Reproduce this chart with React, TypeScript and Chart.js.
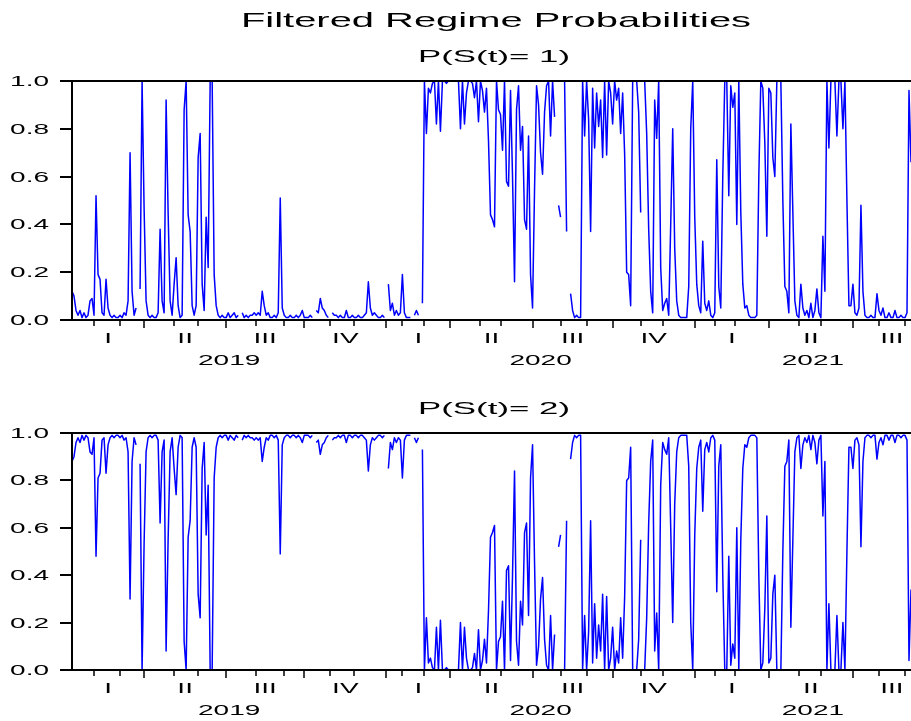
import { useEffect, useRef } from "react";
import { Chart, registerables } from "chart.js";

Chart.register(...registerables);

// Filtered probability of regime 1, one value per observation (null = no observation)
const regime1Prob: (number | null)[] = [
  0.12, 0.10, 0.04, 0.02, 0.04, 0.01, 0.03, 0.01, 0.02, 0.08,
  0.09, 0.02, 0.52, 0.19, 0.17, 0.03, 0.02, 0.17, 0.05, 0.02,
  0.01, 0.02, 0.01, 0.01, 0.02, 0.01, 0.03, 0.02, 0.08, 0.70,
  0.12, 0.02, 0.05, null, 0.13, 1.00, 0.47, 0.08, 0.02, 0.01,
  0.02, 0.01, 0.01, 0.03, 0.38, 0.08, 0.03, 0.92, 0.45, 0.08,
  0.02, 0.15, 0.26, 0.06, 0.01, 0.02, 0.88, 1.00, 0.44, 0.37,
  0.06, 0.02, 0.06, 0.68, 0.78, 0.15, 0.04, 0.43, 0.22, 1.00,
  1.00, 0.19, 0.06, 0.02, 0.01, 0.02, 0.01, 0.01, 0.03, 0.01,
  0.02, 0.03, 0.01, 0.02, null, 0.03, 0.01, 0.02, 0.01, 0.02,
  0.02, 0.03, 0.02, 0.03, 0.02, 0.12, 0.06, 0.02, 0.03, 0.01,
  0.01, 0.02, 0.01, 0.03, 0.51, 0.05, 0.02, 0.01, 0.01, 0.02,
  0.01, 0.01, 0.02, 0.01, 0.02, 0.04, 0.01, 0.01, 0.01, 0.02,
  0.01, null, 0.04, 0.03, 0.09, 0.05, 0.04, 0.02, 0.01, null,
  0.03, 0.02, 0.02, 0.01, 0.02, 0.01, 0.01, 0.04, 0.01, 0.01,
  0.02, 0.01, 0.01, 0.02, 0.01, 0.01, 0.02, 0.03, 0.16, 0.05,
  0.02, 0.03, 0.02, 0.01, 0.01, 0.02, 0.01, null, 0.15, 0.04,
  0.07, 0.02, 0.04, 0.02, 0.03, 0.19, 0.03, 0.01, 0.01, 0.01,
  null, 0.02, 0.04, 0.02, null, 0.07, 1.00, 0.78, 0.97, 0.95,
  0.99, 1.00, 0.82, 1.00, 0.79, 1.00, 1.00, 0.99, 1.00, 1.00,
  1.00, 1.00, 1.00, 1.00, 0.80, 1.00, 0.82, 0.95, 1.00, 1.00,
  0.99, 0.93, 1.00, 0.83, 1.00, 0.96, 0.87, 0.97, 0.75, 0.44,
  0.42, 0.39, 1.00, 0.88, 0.86, 0.71, 1.00, 0.58, 0.56, 0.96,
  0.60, 0.16, 0.88, 0.98, 0.71, 0.81, 0.42, 0.38, 0.77, 0.19,
  0.05, 0.55, 0.98, 0.90, 0.70, 0.61, 0.87, 0.98, 1.00, 0.77,
  1.00, 0.85, null, 0.48, 0.43, null, 1.00, 0.37, null, 0.11,
  0.04, 0.01, 0.02, 0.01, 0.01, 1.00, 0.77, 1.00, 0.84, 0.37,
  0.97, 0.72, 0.95, 0.81, 0.92, 0.68, 1.00, 0.69, 1.00, 0.95,
  0.82, 1.00, 0.92, 0.97, 0.78, 0.95, 0.69, 0.20, 0.19, 0.06,
  1.00, 1.00, 1.00, 0.87, 0.45, null, 1.00, 0.78, 0.38, 0.12,
  0.03, 0.92, 0.76, 1.00, 0.22, 0.04, 0.07, 0.09, 0.02, 0.40,
  0.80, 0.30, 0.08, 0.02, 0.01, 0.01, 0.01, 0.01, 0.14, 0.80,
  1.00, 0.43, 0.15, 0.06, 0.03, 0.33, 0.07, 0.04, 0.08, 0.02,
  0.01, 0.03, 0.67, 0.14, 0.05, 0.60, 1.00, 1.00, 0.52, 0.98,
  0.89, 0.95, 0.40, 1.00, 0.45, 0.15, 0.05, 0.06, 0.02, 0.01,
  0.01, 0.01, 0.02, 0.60, 1.00, 0.97, 0.74, 0.35, 0.97, 0.95,
  0.68, 0.60, 1.00, 1.00, 1.00, 0.50, 0.14, 0.12, 0.03, 0.82,
  0.45, 0.08, 0.02, 0.01, 0.15, 0.05, 0.02, 0.04, 0.01, 0.07,
  0.01, 0.04, 0.13, 0.03, 0.01, 0.35, 0.12, 1.00, 0.72, 1.00,
  1.00, 1.00, 0.77, 1.00, 1.00, 0.80, 1.00, 0.50, 0.06, 0.06,
  0.15, 0.03, 0.02, 0.05, 0.48, 0.12, 0.02, 0.01, 0.01, 0.02,
  0.01, 0.01, 0.11, 0.04, 0.02, 0.05, 0.01, 0.01, 0.03, 0.01,
  0.01, 0.04, 0.01, 0.01, 0.02, 0.01, 0.01, 0.03, 0.96, 0.66,
];

// Two-regime model: the second regime's probability is the complement of the first
const regime2Prob: (number | null)[] = regime1Prob.map((p) =>
  p === null ? null : Math.round((1 - p) * 100) / 100
);

// Observation index of the first observation of each month (Feb 2019 .. Sep 2021)
const monthTicks = [
  11, 24, 36, 51, 63, 77, 92, 106, 116, 129, 141, 157, 165, 176, 189, 204,
  214, 230, 244, 257, 270, 284, 295, 311, 321, 331, 348, 363, 374, 390, 403, 416,
];
// Observation index where each quarter begins, plus the nominal end of the last one
const quarterStarts = [0, 36, 77, 116, 157, 189, 230, 270, 311, 348, 390];
const lastQuarterEnd = 429;
const quarterLabels = ["I", "II", "III", "IV", "I", "II", "III", "IV", "I", "II", "III"];
const yearLabels = ["2019", "2020", "2021"];
const yearQuarterRange: [number, number][] = [
  [0, 3],
  [4, 7],
  [8, 10],
];
const probTicks = [0, 0.2, 0.4, 0.6, 0.8, 1.0];

const MAIN_TITLE = "Filtered Regime Probabilities";
const PANEL_TITLES = ["P(S(t)= 1)", "P(S(t)= 2)"];

const FONT = '"Liberation Sans", Arial, Helvetica, sans-serif';

function wideText(
  ctx: CanvasRenderingContext2D,
  text: string,
  x: number,
  y: number,
  size: number,
  stretch: number,
  align: CanvasTextAlign
) {
  ctx.save();
  ctx.font = `${size}px ${FONT}`;
  ctx.textAlign = align;
  ctx.textBaseline = "alphabetic";
  ctx.fillStyle = "#000";
  ctx.translate(x, y);
  ctx.scale(stretch, 1);
  ctx.fillText(text, 0, 0);
  ctx.restore();
}

function quarterEnd(q: number) {
  return q + 1 < quarterStarts.length ? quarterStarts[q + 1] : lastQuarterEnd;
}

function panelDecor(subtitle: string, withMainTitle: boolean) {
  return {
    id: "panelDecor",
    afterDatasetsDraw(chart: Chart) {
      const ctx = chart.ctx;
      const a = chart.chartArea;
      const xs = chart.scales.x;
      const ys = chart.scales.y;

      ctx.save();
      ctx.strokeStyle = "#000";
      ctx.lineCap = "butt";
      ctx.lineWidth = 2;
      // frame: top, left and bottom edges
      ctx.beginPath();
      ctx.moveTo(a.right, a.top);
      ctx.lineTo(a.left, a.top);
      ctx.lineTo(a.left, a.bottom);
      ctx.lineTo(a.right, a.bottom);
      ctx.stroke();

      // probability ticks
      for (const v of probTicks) {
        const py = Math.round(ys.getPixelForValue(v));
        ctx.beginPath();
        ctx.moveTo(a.left - 12, py);
        ctx.lineTo(a.left, py);
        ctx.stroke();
      }

      // month ticks, longer at quarter boundaries
      ctx.lineWidth = 1.5;
      for (const m of monthTicks) {
        const px = Math.round(xs.getPixelForValue(m));
        const len = quarterStarts.includes(m) ? 8 : 6;
        ctx.beginPath();
        ctx.moveTo(px, a.bottom);
        ctx.lineTo(px, a.bottom + len);
        ctx.stroke();
      }
      ctx.restore();

      for (const v of probTicks) {
        const py = ys.getPixelForValue(v);
        wideText(ctx, v.toFixed(1), a.left - 23, py + 5, 14, 2, "right");
      }

      quarterLabels.forEach((lab, q) => {
        const mid = (quarterStarts[q] + quarterEnd(q)) / 2;
        wideText(ctx, lab, xs.getPixelForValue(mid), a.bottom + 23.3, 14, 2, "center");
      });

      yearLabels.forEach((lab, k) => {
        const [q0, q1] = yearQuarterRange[k];
        const mid = (quarterStarts[q0] + quarterEnd(q1)) / 2;
        wideText(ctx, lab, xs.getPixelForValue(mid), a.bottom + 45, 14, 2, "center");
      });

      wideText(ctx, subtitle, 494, a.top - 19.5, 17, 2.05, "center");
      if (withMainTitle) {
        wideText(ctx, MAIN_TITLE, 496, 26.7, 21, 1.9, "center");
      }
    },
  };
}

function makePanel(
  canvas: HTMLCanvasElement,
  values: (number | null)[],
  subtitle: string,
  withMainTitle: boolean,
  padTop: number,
  padBottom: number
) {
  const points = values.map((v, i) => ({ x: i, y: v }));
  return new Chart(canvas, {
    type: "line",
    data: {
      datasets: [
        {
          data: points as any,
          borderColor: "#0000FF",
          borderWidth: 1.5,
          borderJoinStyle: "round",
          pointRadius: 0,
          tension: 0,
          spanGaps: false,
          fill: false,
        },
      ],
    },
    options: {
      animation: false,
      responsive: false,
      devicePixelRatio: 1,
      events: [],
      layout: { padding: { left: 72, right: 0, top: padTop, bottom: padBottom } },
      plugins: {
        legend: { display: false },
        title: { display: false },
        tooltip: { enabled: false },
      },
      scales: {
        x: { type: "linear", display: false, min: 0, max: values.length - 1 },
        y: { type: "linear", display: false, min: 0, max: 1 },
      },
    },
    plugins: [panelDecor(subtitle, withMainTitle)],
  });
}

export default function App() {
  const topRef = useRef<HTMLCanvasElement>(null);
  const bottomRef = useRef<HTMLCanvasElement>(null);

  useEffect(() => {
    if (!topRef.current || !bottomRef.current) return;
    const upper = makePanel(topRef.current, regime1Prob, PANEL_TITLES[0], true, 81, 52);
    const lower = makePanel(bottomRef.current, regime2Prob, PANEL_TITLES[1], false, 61, 51);
    return () => {
      upper.destroy();
      lower.destroy();
    };
  }, []);

  return (
    <div
      style={{
        position: "absolute",
        left: 0,
        top: 0,
        width: 911,
        height: 721,
        background: "#fff",
        overflow: "hidden",
      }}
    >
      <canvas ref={topRef} width={911} height={372} style={{ display: "block" }} />
      <canvas ref={bottomRef} width={911} height={349} style={{ display: "block" }} />
    </div>
  );
}
